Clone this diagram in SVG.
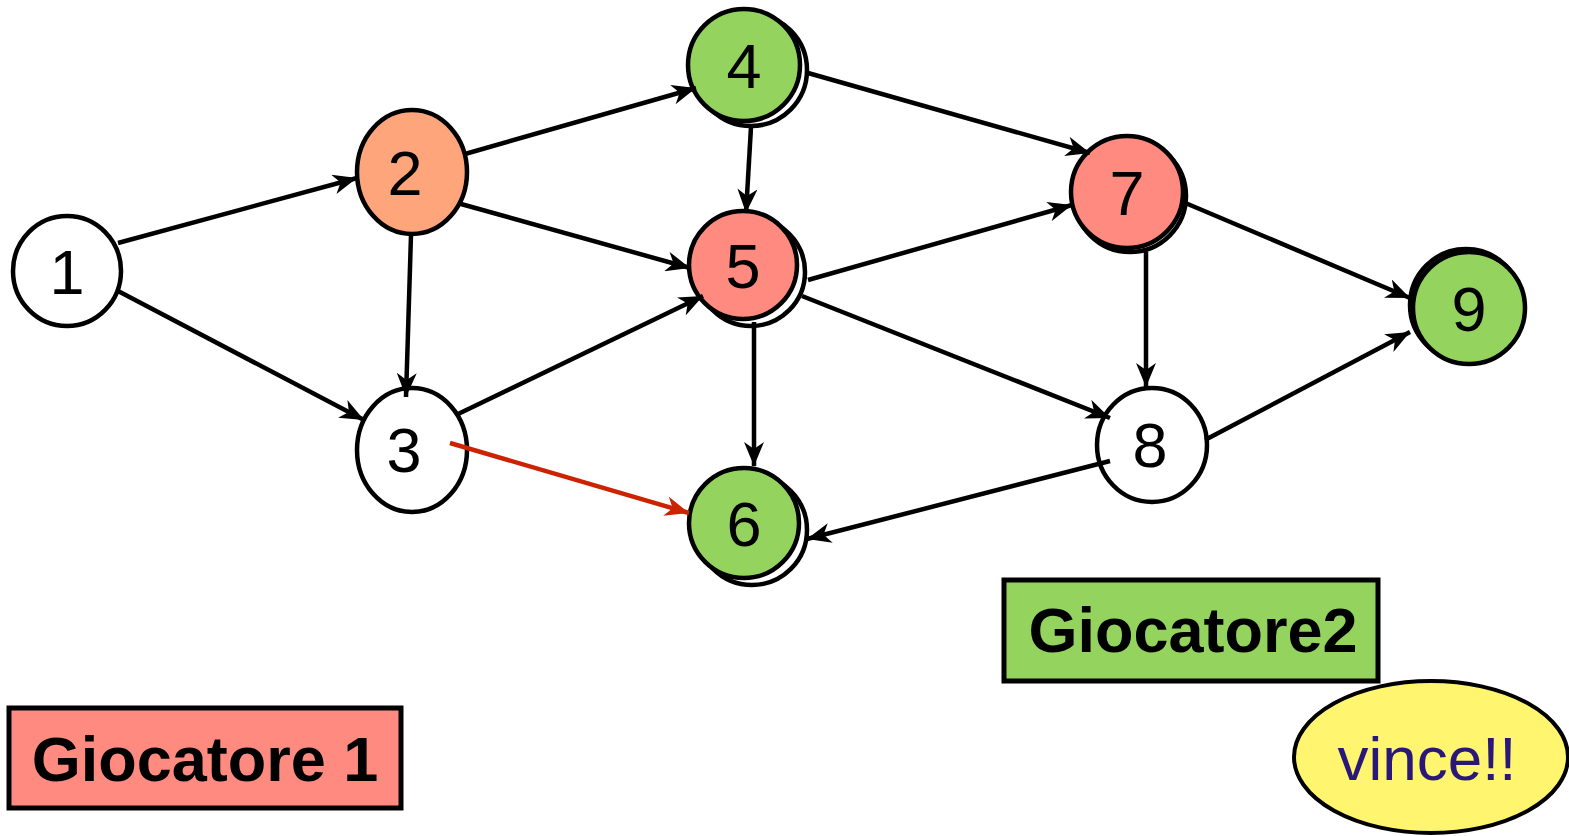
<svg xmlns="http://www.w3.org/2000/svg" width="1569" height="836" viewBox="0 0 1569 836">
  <style>
    .edge { stroke: #000; stroke-width: 4.5; fill: none; marker-end: url(#arrow); }
    .edge.move { stroke: #CC2200; marker-end: url(#arrowRed); }
    .node { stroke: #000; stroke-width: 4.5; }
    .back { fill: #fff; stroke: #000; stroke-width: 4.5; }
    .white { fill: #fff; }
    .green { fill: #94D35E; }
    .pink { fill: #FF8B80; }
    .orange { fill: #FFA57B; }
    .num { font-family: "Liberation Sans", Arial, sans-serif; font-size: 63px; text-anchor: middle; fill: #000; }
    .label { font-family: "Liberation Sans", Arial, sans-serif; font-size: 63px; font-weight: bold; text-anchor: middle; fill: #000; }
  </style>
  <defs>
    <marker id="arrow" viewBox="0 0 24 20" refX="24" refY="10" markerWidth="24" markerHeight="20" markerUnits="userSpaceOnUse" orient="auto">
      <path d="M0,0 L24,10 L0,20 L7,10 Z" fill="#000"/>
    </marker>
    <marker id="arrowRed" viewBox="0 0 24 20" refX="24" refY="10" markerWidth="24" markerHeight="20" markerUnits="userSpaceOnUse" orient="auto">
      <path d="M0,0 L24,10 L0,20 L7,10 Z" fill="#CC2200"/>
    </marker>
  </defs>

  <rect width="1569" height="836" fill="#fff"/>

  <!-- nodes -->
  <g id="node1">
    <ellipse class="node white" cx="67" cy="271" rx="54" ry="55"/>
    <text class="num" x="67" y="294">1</text>
  </g>
  <g id="node2">
    <ellipse class="node orange" cx="412" cy="172" rx="55" ry="62"/>
    <text class="num" x="405" y="195">2</text>
  </g>
  <g id="node3">
    <ellipse class="node white" cx="412" cy="450" rx="55" ry="62"/>
    <text class="num" x="404" y="472">3</text>
  </g>
  <g id="node4">
    <circle class="back" cx="751" cy="70" r="56"/>
    <circle class="node green" cx="744" cy="65" r="56"/>
    <text class="num" x="744" y="88">4</text>
  </g>
  <g id="node5">
    <circle class="back" cx="751" cy="272" r="54"/>
    <circle class="node pink" cx="743" cy="265" r="54"/>
    <text class="num" x="743" y="288">5</text>
  </g>
  <g id="node6">
    <circle class="back" cx="752" cy="530" r="55"/>
    <circle class="node green" cx="744" cy="523" r="55"/>
    <text class="num" x="744" y="546">6</text>
  </g>
  <g id="node7">
    <circle class="back" cx="1130" cy="196" r="56"/>
    <circle class="node pink" cx="1127" cy="192" r="56"/>
    <text class="num" x="1127" y="215">7</text>
  </g>
  <g id="node8">
    <ellipse class="node white" cx="1152" cy="445" rx="55" ry="57"/>
    <text class="num" x="1150" y="467">8</text>
  </g>
  <g id="node9">
    <circle class="back" cx="1466" cy="305" r="56"/>
    <circle class="node green" cx="1469" cy="308" r="56"/>
    <text class="num" x="1469" y="331">9</text>
  </g>

  <!-- connectors, drawn over the node outlines -->
  <g id="connectors">
    <line class="edge" x1="118" y1="243" x2="357" y2="178"/>
    <line class="edge" x1="118" y1="291" x2="364" y2="420"/>
    <line class="edge" x1="465" y1="154" x2="696" y2="88"/>
    <line class="edge" x1="461" y1="204" x2="690" y2="268"/>
    <line class="edge" x1="411" y1="235" x2="406" y2="397"/>
    <line class="edge" x1="751" y1="127" x2="746" y2="213"/>
    <line class="edge" x1="808" y1="73" x2="1090" y2="153"/>
    <line class="edge" x1="456" y1="415" x2="703" y2="296"/>
    <line class="edge" x1="808" y1="280" x2="1072" y2="205"/>
    <line class="edge" x1="802" y1="296" x2="1110" y2="418"/>
    <line class="edge" x1="754" y1="322" x2="754" y2="466"/>
    <line class="edge" x1="1183" y1="202" x2="1410" y2="298"/>
    <line class="edge" x1="1146" y1="252" x2="1146" y2="387"/>
    <line class="edge" x1="1205" y1="440" x2="1410" y2="332"/>
    <line class="edge" x1="1110" y1="461" x2="807" y2="539"/>
    <line class="edge move" x1="450" y1="443" x2="689" y2="513"/>
  </g>

  <!-- player labels -->
  <g id="player1">
    <rect x="9" y="708" width="392" height="100" fill="#FF8B80" stroke="#000" stroke-width="5"/>
    <text class="label" x="205" y="781">Giocatore 1</text>
  </g>
  <g id="player2">
    <rect x="1004" y="580" width="374" height="101" fill="#94D35E" stroke="#000" stroke-width="5"/>
    <text class="label" x="1193" y="652">Giocatore2</text>
  </g>
  <g id="winner">
    <ellipse cx="1431" cy="757" rx="137" ry="76" fill="#FFF56E" stroke="#000" stroke-width="4"/>
    <text x="1427" y="780" font-family="Liberation Sans, Arial, sans-serif" font-size="62" text-anchor="middle" fill="#2A1878">vince!!</text>
  </g>
</svg>
